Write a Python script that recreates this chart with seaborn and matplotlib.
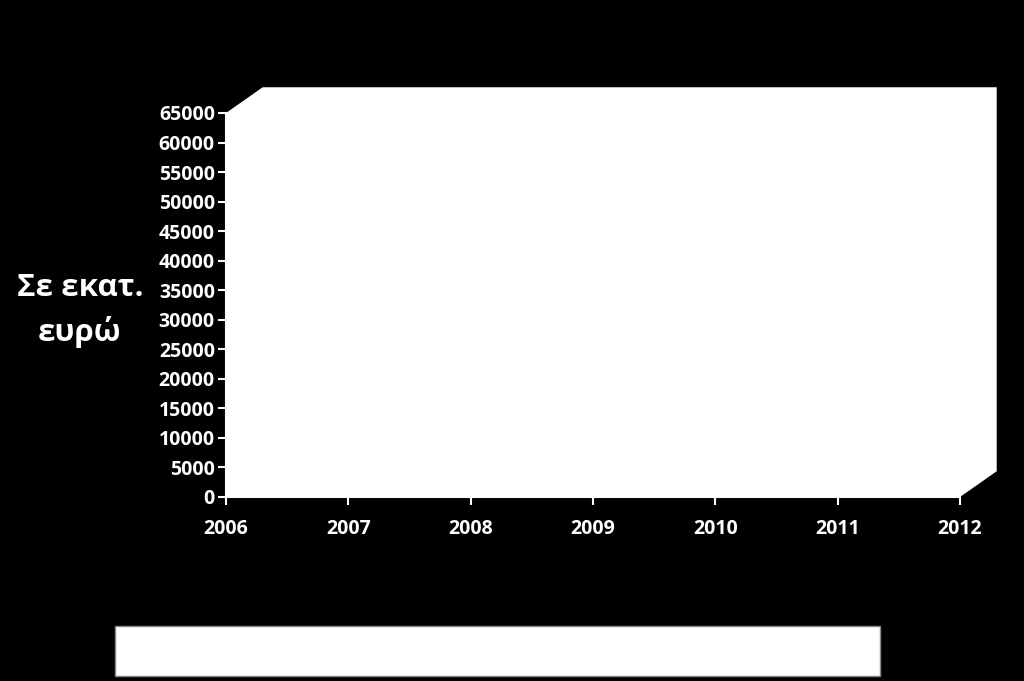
import matplotlib
matplotlib.use('Agg')
import matplotlib.pyplot as plt
import seaborn as sns
from matplotlib.patches import Polygon, Rectangle

# data (the chart has no plotted series, only the axes)
years = [2006, 2007, 2008, 2009, 2010, 2011, 2012]
y_ticks = [0, 5000, 10000, 15000, 20000, 25000, 30000, 35000,
           40000, 45000, 50000, 55000, 60000, 65000]
y_label = 'Σε εκατ.\nευρώ'

sns.set_style('dark')
plt.rcParams['font.family'] = ['Open Sans', 'DejaVu Sans']
plt.rcParams['font.weight'] = 'bold'

fig = plt.figure(figsize=(10.24, 6.81), dpi=100, facecolor='black')
ax = fig.add_axes([0.2207, 0.2702, 0.7168, 0.5639])
ax.patch.set_visible(False)

# empty line plot over the year axis
sns.lineplot(x=years, y=[None] * len(years), ax=ax)

ax.set_xlim(years[0], years[-1])
ax.set_ylim(y_ticks[0], y_ticks[-1])
ax.set_xticks(years)
ax.set_yticks(y_ticks)
ax.grid(False)

# white 3D-ish wall behind the plot
dx, dy = 0.05, 0.067
wall = Polygon([(0, 1), (dx, 1 + dy), (1 + dx, 1 + dy), (1 + dx, dy),
                (1, 0), (0, 0)], closed=True, transform=ax.transAxes,
               facecolor='white', edgecolor='none', clip_on=False, zorder=0)
ax.add_patch(wall)

for s in ['top', 'right']:
    ax.spines[s].set_visible(False)
for s in ['left', 'bottom']:
    ax.spines[s].set_color('white')
    ax.spines[s].set_linewidth(1.5)

ax.tick_params(axis='both', colors='white', labelcolor='white', length=6,
               width=1.5, direction='out', labelsize=14,
               left=True, bottom=True)
ax.tick_params(axis='y', pad=2)
ax.tick_params(axis='x', pad=10)
for lab in ax.get_xticklabels() + ax.get_yticklabels():
    lab.set_fontweight('bold')

ax.set_ylabel(y_label, rotation=0, color='white', fontsize=22.5,
              fontweight='bold', ha='center', va='center', linespacing=1.5)
ax.yaxis.set_label_coords(-0.199, 0.485)

# empty legend box at the bottom
fig.patches.append(Rectangle((0.1123, 0.0073), 0.747, 0.0734,
                             transform=fig.transFigure, facecolor='white',
                             edgecolor='#888888', linewidth=1))

fig.savefig('out.png', dpi=100, facecolor='black')
